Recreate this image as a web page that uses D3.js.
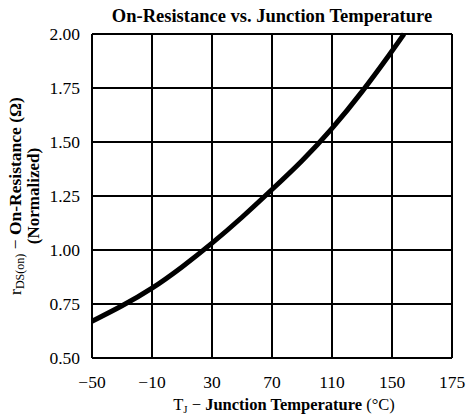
<!DOCTYPE html>
<html>
<head>
<meta charset="utf-8">
<script src="https://cdn.jsdelivr.net/npm/d3@7"></script>
<style>
  body { margin: 0; background: #fff; }
  text { font-family: "Liberation Serif", "Times New Roman", serif; fill: #000; }
</style>
</head>
<body>
<svg class="chart" width="467" height="418"></svg>
<script>
// grid positions (linear temperature), printed labels differ at the last column
let gridTemps = [-50, -10, 30, 70, 110, 150, 190];
let tickLabels = ["\u221250", "\u221210", "30", "70", "110", "150", "175"];
let yTicks = [0.50, 0.75, 1.00, 1.25, 1.50, 1.75, 2.00];

// curve
let temps = [-50, -30, -10, 10, 30, 50, 70, 90, 110, 130, 150, 158];
let resist = [0.67, 0.74, 0.82, 0.92, 1.03, 1.15, 1.28, 1.41, 1.56, 1.73, 1.92, 2.00];

let svg = d3.select("body").select(".chart");
let margin = {top: 34, right: 15, bottom: 60, left: 92};
let plotWidth = 467 - margin.left - margin.right;
let plotHeight = 418 - margin.top - margin.bottom;

let x = d3.scaleLinear().domain([-50, 190]).range([0, plotWidth]);
let y = d3.scaleLinear().domain([0.5, 2.0]).range([plotHeight, 0]);

let plot = svg.append("g").attr("id", "plot")
  .attr("transform", translate(margin.left, margin.top));

// grid
plot.append("g").selectAll("line").data(gridTemps).join("line")
  .attr("x1", d => x(d)).attr("x2", d => x(d))
  .attr("y1", 0).attr("y2", plotHeight)
  .attr("stroke", "#000").attr("stroke-width", 2);
plot.append("g").selectAll("line").data(yTicks).join("line")
  .attr("x1", 0).attr("x2", plotWidth)
  .attr("y1", d => y(d)).attr("y2", d => y(d))
  .attr("stroke", "#000").attr("stroke-width", 2);

// x tick labels
plot.append("g").selectAll("text").data(gridTemps).join("text")
  .attr("x", d => x(d)).attr("y", plotHeight + 30)
  .attr("text-anchor", "middle")
  .style("font-size", "17.5px")
  .text((d, i) => tickLabels[i]);

// y tick labels
plot.append("g").selectAll("text").data(yTicks).join("text")
  .attr("x", -12).attr("y", d => y(d))
  .attr("dy", "0.35em")
  .attr("text-anchor", "end")
  .style("font-size", "17.5px")
  .text(d => d.toFixed(2));

// curve
let data = temps.map((t, i) => [t, resist[i]]);
let line = d3.line().x(d => x(d[0])).y(d => y(d[1])).curve(d3.curveBasis);
plot.append("path").datum(data)
  .attr("d", line)
  .attr("fill", "none")
  .attr("stroke", "#000")
  .attr("stroke-width", 5);

// title
svg.append("text")
  .attr("x", margin.left + plotWidth / 2).attr("y", 22)
  .attr("text-anchor", "middle")
  .style("font-size", "18.5px").style("font-weight", "bold")
  .text("On-Resistance vs. Junction Temperature");

// x axis title
let xt = svg.append("text")
  .attr("x", margin.left + plotWidth / 2 + 12).attr("y", 410)
  .attr("text-anchor", "middle")
  .style("font-size", "16.5px");
xt.append("tspan").text("T");
xt.append("tspan").attr("dy", 3).style("font-size", "11px").text("J");
xt.append("tspan").attr("dy", -3).text("  \u2212  ");
xt.append("tspan").style("font-weight", "bold").text("Junction Temperature");
xt.append("tspan").text(" (\u00b0C)");

// y axis title
let cy = margin.top + plotHeight / 2;
let yt = svg.append("text")
  .attr("transform", "translate(21," + cy + ") rotate(-90)")
  .attr("text-anchor", "middle")
  .style("font-size", "17.5px");
yt.append("tspan").text("r");
yt.append("tspan").attr("dy", 3).style("font-size", "12px").text("DS(on)");
yt.append("tspan").attr("dy", -3).text("  \u2212  ");
yt.append("tspan").style("font-weight", "bold").text("On-Resistance (\u03a9)");
svg.append("text")
  .attr("transform", "translate(39," + cy + ") rotate(-90)")
  .attr("text-anchor", "middle")
  .style("font-size", "17px").style("font-weight", "bold")
  .text("(Normalized)");

function translate(x, y) {
  return 'translate(' + x + ',' + y + ')';
}
</script>
</body>
</html>
